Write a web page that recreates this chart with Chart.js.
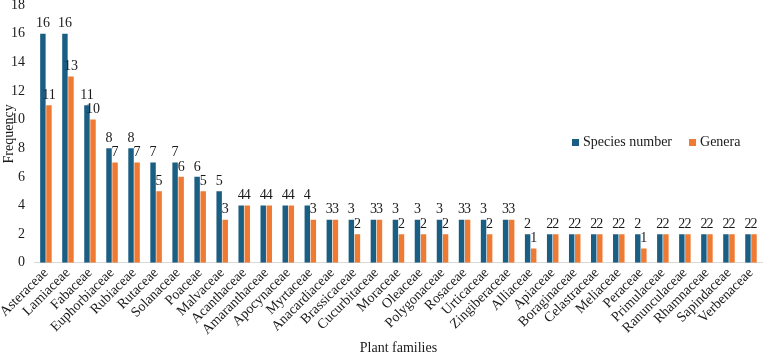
<!DOCTYPE html>
<html>
<head>
<meta charset="utf-8">
<script src="https://cdn.jsdelivr.net/npm/chart.js@4"></script>
<style>
    html, body { margin: 0; padding: 0; background: #fff; }
    #wrap { width: 784px; height: 357px; position: relative; }
</style>
</head>
<body>
<div id="wrap"><canvas id="chart"></canvas></div>
<script>
var families = ['Asteraceae', 'Lamiaceae', 'Fabaceae', 'Euphorbiaceae', 'Rubiaceae', 'Rutaceae',
    'Solanaceae', 'Poaceae', 'Malvaceae', 'Acanthaceae', 'Amaranthaceae', 'Apocynaceae', 'Myrtaceae',
    'Anacardiaceae', 'Brassicaceae', 'Cucurbitaceae', 'Moraceae', 'Oleaceae', 'Polygonaceae', 'Rosaceae',
    'Urticaceae', 'Zingiberaceae', 'Alliaceae', 'Apiaceae', 'Boraginaceae', 'Celastraceae', 'Meliaceae',
    'Peraceae', 'Primulaceae', 'Ranunculaceae', 'Rhamnaceae', 'Sapindaceae', 'Verbenaceae'];
var speciesNumber = [16, 16, 11, 8, 8, 7, 7, 6, 5, 4, 4, 4, 4, 3, 3, 3, 3, 3, 3, 3, 3, 3, 2, 2, 2, 2, 2, 2, 2, 2, 2, 2, 2];
var genera = [11, 13, 10, 7, 7, 5, 6, 5, 3, 4, 4, 4, 3, 3, 2, 3, 2, 2, 2, 3, 2, 3, 1, 2, 2, 2, 2, 1, 2, 2, 2, 2, 2];
var yTicks = [0, 2, 4, 6, 8, 10, 12, 14, 16, 18];

var FONT = '"Liberation Serif", "Times New Roman", serif';
var TEXT = '#1a1a1a';

// value labels above each bar
var barLabels = {
    id: 'barLabels',
    afterDatasetsDraw: function(chart) {
        var ctx = chart.ctx;
        ctx.save();
        ctx.font = '14px ' + FONT;
        ctx.fillStyle = TEXT;
        ctx.textAlign = 'center';
        ctx.textBaseline = 'bottom';
        chart.data.datasets.forEach(function(ds, i) {
            chart.getDatasetMeta(i).data.forEach(function(bar, j) {
                ctx.fillText(String(ds.data[j]), bar.x, bar.y - 3);
            });
        });
        ctx.restore();
    }
};

// legend drawn inside the plot, right side
var sideLegend = {
    id: 'sideLegend',
    afterDraw: function(chart) {
        var ctx = chart.ctx;
        var x = 572, y = 142;
        ctx.save();
        ctx.font = '14px ' + FONT;
        ctx.textBaseline = 'middle';
        chart.data.datasets.forEach(function(ds) {
            ctx.fillStyle = ds.backgroundColor;
            ctx.fillRect(x, y - 3, 7, 7);
            ctx.fillStyle = TEXT;
            ctx.textAlign = 'left';
            ctx.fillText(ds.label, x + 11, y);
            x += 11 + ctx.measureText(ds.label).width + 17;
        });
        ctx.restore();
    }
};

var ctx = document.getElementById('chart').getContext('2d');
new Chart(ctx, {
    type: 'bar',
    data: {
        labels: families,
        datasets: [
            {
                label: 'Species number',
                data: speciesNumber,
                backgroundColor: '#1a5e83',
                categoryPercentage: 0.55,
                barPercentage: 0.9
            },
            {
                label: 'Genera',
                data: genera,
                backgroundColor: '#ef7a33',
                categoryPercentage: 0.55,
                barPercentage: 0.9
            }
        ]
    },
    options: {
        responsive: true,
        maintainAspectRatio: false,
        animation: false,
        layout: { padding: { top: 5, right: 22, bottom: 0, left: 0 } },
        plugins: {
            legend: { display: false },
            tooltip: { enabled: false }
        },
        scales: {
            x: {
                grid: { display: false, drawTicks: false },
                border: { display: true, color: '#d9d9d9', width: 1 },
                ticks: {
                    color: TEXT,
                    font: { family: FONT, size: 14 },
                    minRotation: 45,
                    maxRotation: 45,
                    autoSkip: false,
                    padding: 2
                },
                title: {
                    display: true,
                    text: 'Plant families',
                    color: TEXT,
                    font: { family: FONT, size: 14 },
                    padding: { top: 0, bottom: 0 }
                }
            },
            y: {
                min: 0,
                max: 18,
                afterBuildTicks: function(scale) {
                    scale.ticks = yTicks.map(function(v) { return { value: v }; });
                },
                afterFit: function(scale) {
                    scale.width = 34;
                    scale.paddingTop = 0;
                    scale.paddingBottom = 0;
                },
                grid: { display: false, drawTicks: false },
                border: { display: false },
                ticks: {
                    color: TEXT,
                    font: { family: FONT, size: 14 },
                    padding: 10
                },
                title: {
                    display: true,
                    text: 'Frequency',
                    color: TEXT,
                    font: { family: FONT, size: 14 },
                    padding: 0
                }
            }
        }
    },
    plugins: [barLabels, sideLegend]
});
</script>
</body>
</html>
